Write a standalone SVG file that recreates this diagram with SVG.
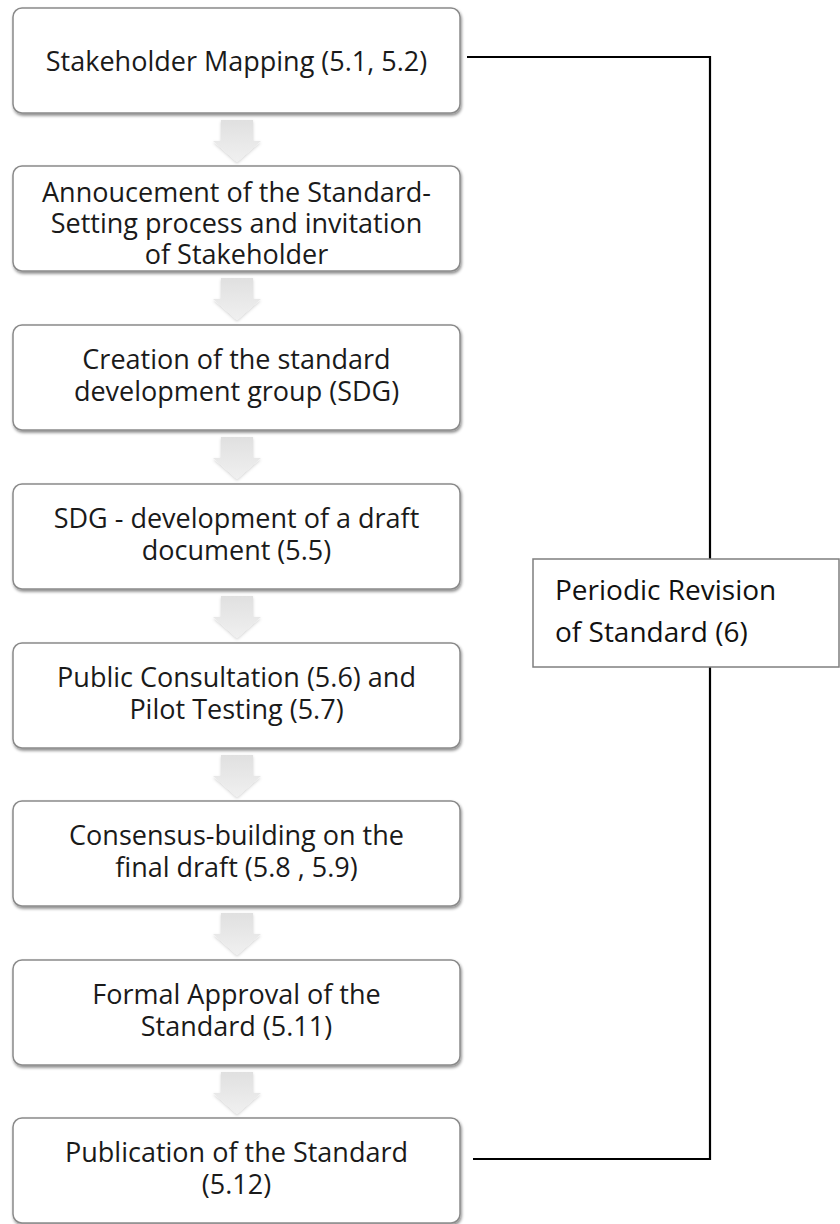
<svg xmlns="http://www.w3.org/2000/svg" width="840" height="1224" viewBox="0 0 840 1224">
<style>
.box{fill:#ffffff;stroke:#8a8a8a;stroke-width:1.5;filter:url(#sh)}
.t{font-family:"Open Sans","Noto Sans",sans-serif;font-size:27px;fill:#1a1a1a;text-anchor:middle}
.lbl{font-family:"Open Sans","Noto Sans",sans-serif;font-size:28px;fill:#111111}
.arr{fill:url(#ag);filter:url(#ash)}
.ln{stroke:#000000;stroke-width:2.2;fill:none}
</style>
<defs>
<filter id="sh" x="-5%" y="-10%" width="115%" height="130%">
<feDropShadow dx="1" dy="2" stdDeviation="1.6" flood-color="#000000" flood-opacity="0.45"/>
</filter>
<filter id="ash" x="-30%" y="-20%" width="160%" height="150%">
<feDropShadow dx="0" dy="1.5" stdDeviation="1.5" flood-color="#000000" flood-opacity="0.18"/>
</filter>
<linearGradient id="ag" x1="0" y1="0" x2="0" y2="1">
<stop offset="0" stop-color="#e0e0e0"/>
<stop offset="1" stop-color="#f0f0f0"/>
</linearGradient>
<path id="arrow" d="M221,0 H253 V21 H261 L237,42 L213,21 H221 Z"/>
</defs>

<g id="connectors">
<polyline class="ln" points="467,57 710,57 710,1159 473,1159"/>
<use href="#arrow" class="arr" transform="translate(0,120)"/>
<use href="#arrow" class="arr" transform="translate(0,278)"/>
<use href="#arrow" class="arr" transform="translate(0,437)"/>
<use href="#arrow" class="arr" transform="translate(0,596)"/>
<use href="#arrow" class="arr" transform="translate(0,755)"/>
<use href="#arrow" class="arr" transform="translate(0,913)"/>
<use href="#arrow" class="arr" transform="translate(0,1072)"/>
</g>

<g id="n1">
<rect class="box" x="13" y="8" width="447" height="105" rx="9"/>
<text class="t" x="236.5" y="71">Stakeholder Mapping (5.1, 5.2)</text>
</g>
<g id="n2">
<rect class="box" x="13" y="166" width="447" height="105" rx="9"/>
<text class="t" x="236.5" y="202">Annoucement of the Standard-</text>
<text class="t" x="236.5" y="233">Setting process and invitation</text>
<text class="t" x="236.5" y="264">of Stakeholder</text>
</g>
<g id="n3">
<rect class="box" x="13" y="325" width="447" height="105" rx="9"/>
<text class="t" x="236.5" y="369">Creation of the standard</text>
<text class="t" x="236.5" y="401">development group (SDG)</text>
</g>
<g id="n4">
<rect class="box" x="13" y="484" width="447" height="105" rx="9"/>
<text class="t" x="236.5" y="528">SDG - development of a draft</text>
<text class="t" x="236.5" y="560">document (5.5)</text>
</g>
<g id="n5">
<rect class="box" x="13" y="643" width="447" height="105" rx="9"/>
<text class="t" x="236.5" y="687">Public Consultation (5.6) and</text>
<text class="t" x="236.5" y="719">Pilot Testing (5.7)</text>
</g>
<g id="n6">
<rect class="box" x="13" y="801" width="447" height="105" rx="9"/>
<text class="t" x="236.5" y="845">Consensus-building on the</text>
<text class="t" x="236.5" y="877">final draft (5.8 , 5.9)</text>
</g>
<g id="n7">
<rect class="box" x="13" y="960" width="447" height="105" rx="9"/>
<text class="t" x="236.5" y="1004">Formal Approval of the</text>
<text class="t" x="236.5" y="1036">Standard (5.11)</text>
</g>
<g id="n8">
<rect class="box" x="13" y="1118" width="447" height="105" rx="9"/>
<text class="t" x="236.5" y="1162">Publication of the Standard</text>
<text class="t" x="236.5" y="1194">(5.12)</text>
</g>

<g id="label">
<rect x="533" y="559" width="306" height="108" fill="#ffffff" stroke="#7f7f7f" stroke-width="1.5"/>
<text class="lbl" x="555" y="600">Periodic Revision</text>
<text class="lbl" x="555" y="642">of Standard (6)</text>
</g>
</svg>
